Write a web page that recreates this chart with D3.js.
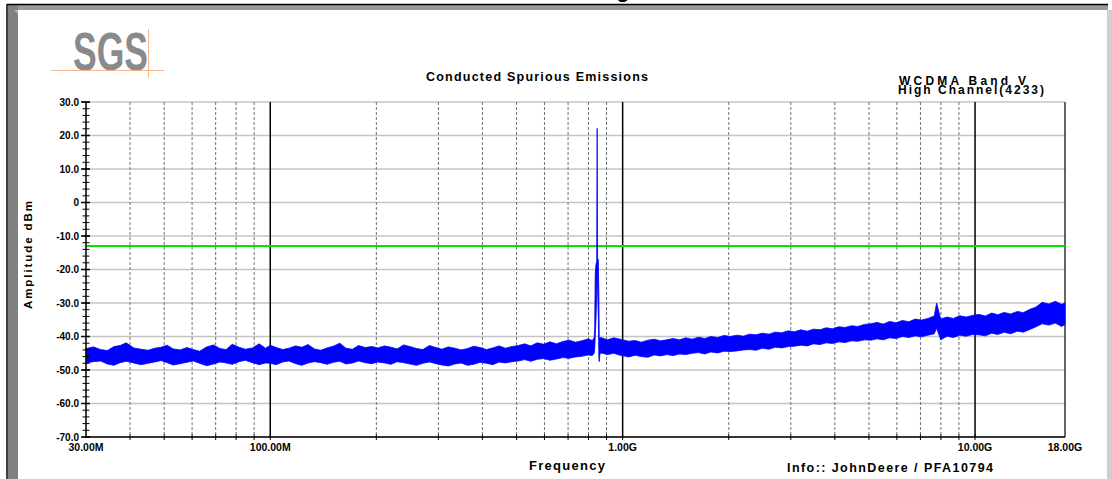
<!DOCTYPE html>
<html>
<head>
<meta charset="utf-8">
<title>Conducted Spurious Emissions</title>
<style>
  body { margin: 0; background: #fff; }
  svg text { font-family: "Liberation Sans", Arial, sans-serif; font-weight: bold; fill: #000; }
</style>
</head>
<body>
<svg id="chart" width="1112" height="479"></svg>
<script src="https://cdn.jsdelivr.net/npm/d3@7/dist/d3.min.js"></script>
<script>
// sweep points (MHz) with peak / floor of the trace in each bin (dBm)
var freqMHz = [
  30, 31.5, 33, 34.5, 36, 37.5, 39, 41, 43, 45,
  47, 49, 51, 53, 55.5, 58, 60.5, 63, 66, 69,
  72, 75, 78, 81.5, 85, 89, 93, 97,
  100, 104, 108.5, 113, 118, 123, 128, 133.5, 139, 145,
  151, 157.5, 164, 171, 178, 186, 194,
  202, 211, 220, 229, 239, 249, 260, 271, 283, 295,
  307, 320, 334, 348, 363, 378, 394, 411, 428, 446, 465, 485,
  506, 527, 549, 572, 597, 622, 649, 676, 705, 735,
  766, 799, 820, 830, 833, 836, 840, 844, 846.6, 849,
  853, 856, 858, 862, 868, 905, 944, 984,
  1000, 1040, 1085, 1130, 1180, 1230, 1280, 1335, 1390, 1450,
  1510, 1575, 1640, 1710, 1780, 1860, 1940,
  2020, 2110, 2200, 2290, 2390, 2490, 2600, 2710, 2830, 2950,
  3070, 3200, 3340, 3480, 3630, 3780, 3940, 4110, 4280, 4460, 4650, 4850,
  5060, 5270, 5490, 5720, 5970, 6220, 6490, 6760, 7050, 7350,
  7660, 7780, 7990, 8330, 8680, 9050, 9440, 9840,
  10260, 10700, 11150, 11600, 12100, 12600, 13200, 13700, 14300, 14900,
  15500, 16200, 16900, 17600, 18000
];
var peakDbm = [
  -43.6, -43.1, -43.9, -44.2, -43.0, -42.7, -41.9, -43.4, -43.8, -44.1,
  -43.5, -43.2, -42.6, -43.7, -44.0, -43.3, -43.9, -44.4, -43.1, -42.5,
  -43.6, -43.9, -42.3, -43.2, -43.8, -43.4, -42.2, -43.5,
  -42.6, -43.3, -43.9, -43.5, -42.8, -43.2, -42.4, -43.7, -44.1, -43.4,
  -42.9, -42.0, -43.5, -43.8, -42.7, -43.3, -43.0,
  -43.4, -42.8, -43.2, -43.7, -42.5, -43.0, -43.6, -43.9, -42.7, -43.3,
  -43.8, -43.1, -43.5, -44.0, -43.6, -42.9, -43.3, -43.9, -43.4, -42.8, -43.5, -43.0,
  -42.7, -42.2, -42.8, -41.9, -42.3, -41.6, -42.2, -41.5, -41.1, -41.7,
  -41.3, -40.7, -41.2, -40.4, -38.0, -21.0, -18.5, -17.5, 22.1, -17.5,
  -17.0, -28.0, -40.0, -40.5, -40.3, -41.0, -40.4, -40.8,
  -41.0, -41.4, -41.2, -41.7, -41.1, -40.8, -41.3, -41.0, -40.6, -41.0,
  -40.4, -40.8, -40.2, -40.6, -40.0, -40.3, -39.7,
  -40.0, -39.6, -39.9, -39.3, -39.5, -39.0, -39.3, -38.7, -38.9, -38.3,
  -38.6, -38.0, -38.4, -37.8, -38.0, -37.4, -37.7, -37.1, -37.3, -36.8, -37.0, -36.4,
  -36.2, -35.8, -36.3, -35.5, -35.9, -35.2, -35.6, -34.8, -35.1, -34.6,
  -33.9, -30.0, -34.8, -34.2, -34.6, -33.8, -34.2, -33.7,
  -33.4, -33.9, -33.0, -33.5, -32.8, -33.3, -32.5, -32.9, -31.9, -31.2,
  -29.8, -30.3, -29.5, -30.4, -30.0
];
var floorDbm = [
  -47.9, -47.5, -47.3, -48.2, -48.6, -47.8, -47.4, -47.9, -48.4, -48.0,
  -47.6, -47.2, -47.8, -48.5, -48.1, -47.7, -47.3, -48.0, -48.7, -48.2,
  -47.6, -47.9, -48.3, -47.5, -47.1, -47.8, -48.4, -47.9,
  -48.0, -48.4, -47.6, -47.3, -48.1, -48.6, -47.9, -47.5, -47.8, -48.3,
  -47.7, -47.4, -48.2, -47.9, -47.3, -47.8, -48.1,
  -47.6, -47.9, -48.3, -47.5, -47.8, -48.2, -48.6, -48.0, -47.6, -48.1,
  -48.5, -48.8, -48.2, -47.9, -48.6, -48.3, -47.7, -48.0, -48.4, -47.6, -47.9, -47.5,
  -47.3, -46.9, -47.4, -46.8, -46.6, -47.1, -46.7, -46.3, -46.5, -46.1,
  -45.9, -45.5, -45.7, -45.0, -44.0, -40.0, -35.0, -28.0, -20.0, -26.0,
  -34.0, -46.5, -47.5, -45.2, -44.9, -45.4, -45.0, -45.6,
  -45.7, -46.1, -45.6, -46.0, -46.2, -45.5, -45.8, -45.4, -45.7, -45.2,
  -45.4, -45.0, -44.8, -45.2, -44.6, -44.9, -44.4,
  -44.5, -44.3, -44.0, -43.9, -44.1, -43.5, -43.8, -43.2, -43.4, -43.0,
  -42.9, -42.6, -42.8, -42.2, -42.4, -41.9, -42.1, -41.6, -41.8, -41.3, -41.4, -41.0,
  -41.1, -40.7, -41.0, -40.4, -40.6, -40.0, -40.3, -39.8, -40.1, -39.6,
  -39.2, -37.5, -41.0, -39.9, -40.3, -39.6, -39.9, -39.4,
  -39.5, -39.8, -39.0, -39.4, -38.7, -39.2, -38.4, -38.7, -37.9, -37.1,
  -36.2, -36.6, -36.0, -37.0, -36.4
];
var limitDbm = -13;
var yTicks = [30, 20, 10, 0, -10, -20, -30, -40, -50, -60, -70];
var decadeMHz = [100, 1000, 10000];
var gridMHz = [40, 50, 60, 70, 80, 90, 200, 300, 400, 500, 600, 700, 800, 900,
               2000, 3000, 4000, 5000, 6000, 7000, 8000, 9000];
var xLabelMHz = [30, 100, 1000, 10000, 18000];
var xLabelText = ["30.00M", "100.00M", "1.00G", "10.00G", "18.00G"];

var svg = d3.select("#chart");
var pLeft = 86, pRight = 1065, pTop = 102, pBottom = 437;

var x = d3.scaleLog().domain([30, 18000]).range([pLeft, pRight]);
var y = d3.scaleLinear().domain([-70, 30]).range([pBottom, pTop]);

// window frame
svg.append("rect").attr("x", 8).attr("y", 5).attr("width", 1100).attr("height", 5).attr("fill", "#9a9a9a");
svg.append("rect").attr("x", 8).attr("y", 5).attr("width", 10).attr("height", 474).attr("fill", "#808080");
svg.append("path").attr("d", "M18,10 L18,14 L14,10 Z").attr("fill", "#b0b0b0");
svg.append("line").attr("x1", 7).attr("x2", 7).attr("y1", 4).attr("y2", 479).attr("stroke", "#000").attr("stroke-width", 1.5);
svg.append("line").attr("x1", 7).attr("x2", 1108).attr("y1", 4.5).attr("y2", 4.5).attr("stroke", "#000").attr("stroke-width", 1.5);
svg.append("rect").attr("x", 1107).attr("y", 10).attr("width", 5).attr("height", 469).attr("fill", "#cfcfcf");
svg.append("text").attr("x", 623).attr("y", -3).attr("text-anchor", "middle").style("font-size", "22px").text("g");

// SGS logo
svg.append("text").attr("x", 73).attr("y", 70)
  .attr("textLength", 75).attr("lengthAdjust", "spacingAndGlyphs")
  .style("font-size", "53px").style("fill", "#8a8a8a").text("SGS");
svg.append("line").attr("x1", 51).attr("x2", 164).attr("y1", 70.5).attr("y2", 70.5).attr("stroke", "#f4b68a").attr("stroke-width", 1);
svg.append("line").attr("x1", 148.5).attr("x2", 148.5).attr("y1", 29).attr("y2", 78).attr("stroke", "#f4b68a").attr("stroke-width", 1);

// titles
svg.append("text").attr("x", 426).attr("y", 81).attr("textLength", 222)
  .style("font-size", "12.5px").text("Conducted Spurious Emissions");
svg.append("text").attr("x", 899).attr("y", 85).attr("textLength", 127)
  .style("font-size", "12px").text("WCDMA Band V");
svg.append("text").attr("x", 898).attr("y", 94).attr("textLength", 146)
  .style("font-size", "12px").text("High Channel(4233)");

// grid
var grid = svg.append("g");
grid.selectAll(".hg").data(yTicks).enter().append("line")
  .attr("x1", pLeft).attr("x2", pRight)
  .attr("y1", function(d) { return y(d); }).attr("y2", function(d) { return y(d); })
  .attr("stroke", "#c4c4c4").attr("stroke-width", 1.5);
grid.selectAll(".vg").data(gridMHz).enter().append("line")
  .attr("x1", function(d) { return x(d); }).attr("x2", function(d) { return x(d); })
  .attr("y1", pTop).attr("y2", pBottom)
  .attr("stroke", "#707070").attr("stroke-width", 1).attr("stroke-dasharray", "3,2");
grid.selectAll(".dg").data(decadeMHz).enter().append("line")
  .attr("x1", function(d) { return x(d); }).attr("x2", function(d) { return x(d); })
  .attr("y1", pTop).attr("y2", pBottom)
  .attr("stroke", "#000").attr("stroke-width", 1.5);
svg.append("line").attr("x1", pRight).attr("x2", pRight).attr("y1", pTop).attr("y2", pBottom)
  .attr("stroke", "#000").attr("stroke-width", 1.2);

// limit line
svg.append("line").attr("x1", pLeft).attr("x2", pRight)
  .attr("y1", y(limitDbm)).attr("y2", y(limitDbm))
  .attr("stroke", "#00e600").attr("stroke-width", 2);

// trace
var pts = freqMHz.map(function(f, i) { return { f: f, hi: peakDbm[i], lo: floorDbm[i] }; });
var band = d3.area()
  .x(function(d) { return x(d.f); })
  .y0(function(d) { return y(d.lo); })
  .y1(function(d) { return y(d.hi); });
svg.append("path").datum(pts).attr("d", band)
  .attr("fill", "#0000ff").attr("stroke", "#0000ff").attr("stroke-width", 0.8);

// axes lines
svg.append("line").attr("x1", pLeft).attr("x2", pLeft).attr("y1", pTop).attr("y2", pBottom)
  .attr("stroke", "#000").attr("stroke-width", 1.5);
svg.append("line").attr("x1", pLeft).attr("x2", pRight).attr("y1", pBottom).attr("y2", pBottom)
  .attr("stroke", "#000").attr("stroke-width", 1.5);

// y ticks (major + minor every 2 dB)
var minor = d3.range(-70, 30.1, 2);
svg.selectAll(".ymin").data(minor).enter().append("line")
  .attr("x1", 82.5).attr("x2", 89.5)
  .attr("y1", function(d) { return y(d); }).attr("y2", function(d) { return y(d); })
  .attr("stroke", "#000").attr("stroke-width", 1);
svg.selectAll(".ymaj").data(yTicks).enter().append("line")
  .attr("x1", 81).attr("x2", 90)
  .attr("y1", function(d) { return y(d); }).attr("y2", function(d) { return y(d); })
  .attr("stroke", "#000").attr("stroke-width", 1.5);
svg.selectAll(".ylab").data(yTicks).enter().append("text")
  .attr("x", 79).attr("y", function(d) { return y(d); }).attr("dy", "0.35em")
  .attr("text-anchor", "end").style("font-size", "10px")
  .text(function(d) { return d === 0 ? "0" : d.toFixed(1); });

// x ticks
svg.selectAll(".xt").data(gridMHz.concat(decadeMHz)).enter().append("line")
  .attr("x1", function(d) { return x(d); }).attr("x2", function(d) { return x(d); })
  .attr("y1", pBottom - 2.5).attr("y2", pBottom + 3)
  .attr("stroke", "#000").attr("stroke-width", 1);
svg.selectAll(".xlab").data(xLabelMHz).enter().append("text")
  .attr("x", function(d) { return x(d); }).attr("y", 451)
  .attr("text-anchor", "middle").style("font-size", "10.5px")
  .text(function(d, i) { return xLabelText[i]; });

// axis titles
svg.append("text").attr("transform", "translate(32,255) rotate(-90)")
  .attr("text-anchor", "middle").attr("textLength", 108)
  .style("font-size", "11.5px").text("Amplitude dBm");
svg.append("text").attr("x", 529).attr("y", 470).attr("textLength", 76)
  .style("font-size", "13px").text("Frequency");
svg.append("text").attr("x", 787).attr("y", 472).attr("textLength", 206)
  .style("font-size", "12.5px").text("Info:: JohnDeere / PFA10794");
</script>
</body>
</html>
